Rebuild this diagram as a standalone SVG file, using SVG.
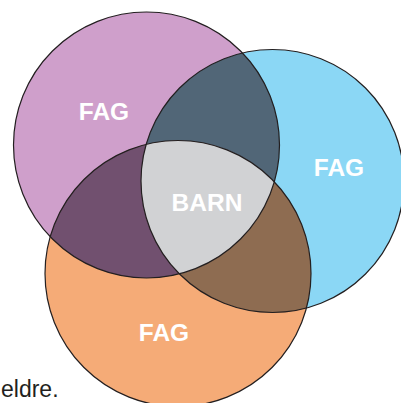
<svg xmlns="http://www.w3.org/2000/svg" width="401" height="403" viewBox="0 0 401 403">
<style>
.lbl{font-family:"Liberation Sans",Arial,sans-serif;font-weight:bold;font-size:24.5px;fill:#ffffff;text-anchor:middle}
.ol{fill:none;stroke:#231f20;stroke-width:1.2}
.cap{font-family:"Liberation Sans",Arial,sans-serif;font-size:23px;fill:#231f20}
</style>
<defs>
<circle id="cP" cx="146.5" cy="145" r="133"/>
<circle id="cB" cx="272.5" cy="181" r="131.5"/>
<circle id="cO" cx="178" cy="273.5" r="133"/>
<clipPath id="clipP"><use href="#cP"/></clipPath>
<clipPath id="clipB"><use href="#cB"/></clipPath>
</defs>
<rect width="401" height="403" fill="#ffffff"/>
<g id="circle-purple"><use href="#cP" fill="#cf9fcb"/></g>
<g id="circle-blue"><use href="#cB" fill="#8bd7f5"/></g>
<g id="circle-orange"><use href="#cO" fill="#f5ab77"/></g>
<g id="overlap-purple-blue" clip-path="url(#clipP)"><use href="#cB" fill="#516677"/></g>
<g id="overlap-purple-orange" clip-path="url(#clipP)"><use href="#cO" fill="#71506f"/></g>
<g id="overlap-blue-orange" clip-path="url(#clipB)"><use href="#cO" fill="#8e6c51"/></g>
<g id="overlap-center" clip-path="url(#clipP)"><g clip-path="url(#clipB)"><use href="#cO" fill="#d1d2d4"/></g></g>
<g id="outlines">
<use href="#cP" class="ol"/>
<use href="#cB" class="ol"/>
<use href="#cO" class="ol"/>
</g>
<g id="labels">
<text class="lbl" x="104" y="120">FAG</text>
<text class="lbl" x="339" y="176">FAG</text>
<text class="lbl" x="164" y="341">FAG</text>
<text class="lbl" x="207" y="211">BARN</text>
</g>
<text class="cap" x="1" y="397">eldre.</text>
</svg>
